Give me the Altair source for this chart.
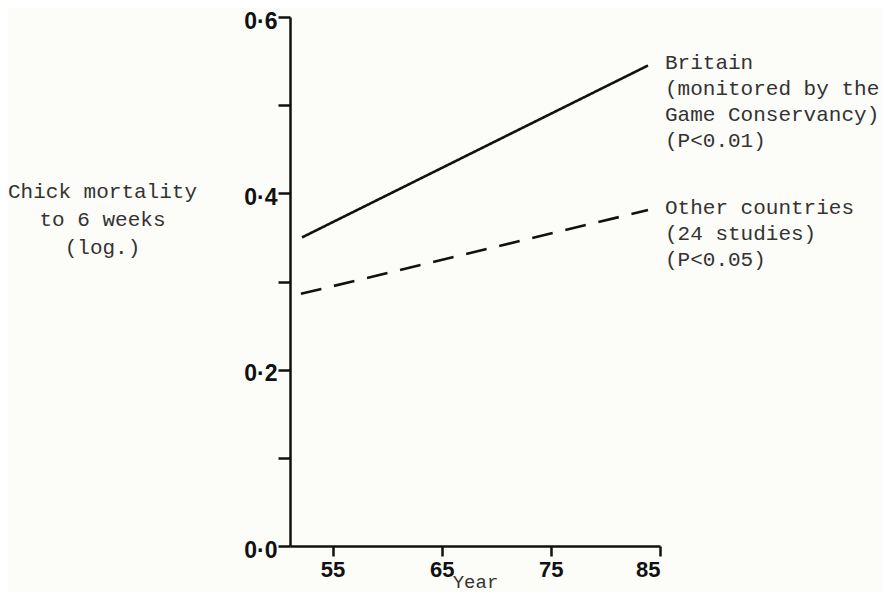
import altair as alt
import pandas as pd

# ---- data ----
series = ["Britain", "Other countries"]
year_start = [52.2, 52.1]
year_end = [83.9, 83.9]
value_start = [0.350, 0.286]
value_end = [0.545, 0.381]

label_text = [
    "Britain\n(monitored by the\nGame Conservancy)\n(P<0.01)",
    "Other countries\n(24 studies)\n(P<0.05)",
]
label_value = [0.541, 0.376]

y_ticks = [0.0, 0.1, 0.2, 0.3, 0.4, 0.5, 0.6]
x_ticks = [55, 65, 75, 85]
x_domain = [51.1, 85]
y_domain = [0.0, 0.6]

# ---- tables ----
rows = []
for s, x0, x1, v0, v1 in zip(series, year_start, year_end, value_start, value_end):
    rows.append({"series": s, "year": x0, "value": v0})
    rows.append({"series": s, "year": x1, "value": v1})
lines_df = pd.DataFrame(rows)
labels_df = pd.DataFrame({"series": series, "year": year_end,
                          "value": label_value, "label": label_text})

MONO = "Liberation Mono"
BOLD = "Liberation Sans, Arial"

x_enc = alt.X("year:Q", scale=alt.Scale(domain=x_domain, nice=False, zero=False),
              axis=alt.Axis(values=x_ticks, title="Year", format="d",
                            labelFont=BOLD, labelFontWeight="bold", labelFontSize=22,
                            labelColor="#111", labelPadding=3,
                            tickSize=10, tickWidth=2.5, tickColor="#111",
                            domainWidth=2.5, domainColor="#111",
                            titleFont=MONO, titleFontSize=19, titleFontWeight="normal",
                            titleColor="#333", titleBaseline="alphabetic",
                            titleY=41, grid=False))
y_enc = alt.Y("value:Q", scale=alt.Scale(domain=y_domain, nice=False),
              axis=alt.Axis(values=y_ticks,
                            labelExpr="round(datum.value*10) % 2 == 0 ? replace(format(datum.value, '.1f'), '.', '·') : ''",
                            labelFont=BOLD, labelFontWeight="bold", labelFontSize=23,
                            labelColor="#111", labelPadding=1, labelOffset=4,
                            tickSize=12, tickWidth=2.5, tickColor="#111",
                            domainWidth=2.5, domainColor="#111",
                            title=["Chick mortality", "to 6 weeks", "(log.)\u00a0\u00a0"],
                            titleFont=MONO, titleFontSize=21, titleFontWeight="normal",
                            titleColor="#333", titleAngle=0, titleAlign="center",
                            titleBaseline="alphabetic", titleX=-188, titleY=180,
                            titleLineHeight=28, grid=False))

lines = alt.Chart(lines_df).mark_line(color="#111", strokeWidth=2.6).encode(
    x=x_enc, y=y_enc,
    detail="series:N",
    strokeDash=alt.StrokeDash("series:N", legend=None,
                              scale=alt.Scale(domain=series, range=[[1, 0], [21, 13]])),
)

labels = alt.Chart(labels_df).mark_text(
    align="left", baseline="alphabetic", dx=17, lineBreak="\n", lineHeight=26,
    font=MONO, fontSize=21, color="#333",
).encode(x="year:Q", y="value:Q", text="label:N")

chart = alt.layer(lines, labels).properties(
    width=370, height=529,
    autosize=alt.AutoSizeParams(type="none"),
    padding={"left": 282, "top": 9, "right": 222, "bottom": 46},
    background="#fcfcf8",
).configure_view(stroke=None)

chart.save("out.html", embed_options={"renderer": "svg", "actions": False})
